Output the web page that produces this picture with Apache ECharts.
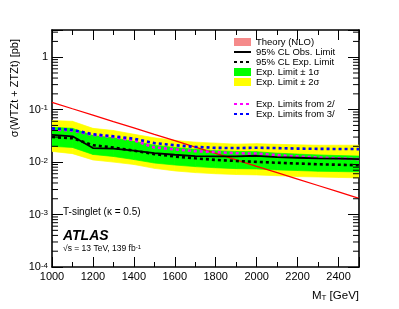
<!DOCTYPE html>
<html><head><meta charset="utf-8">
<script src="https://cdn.jsdelivr.net/npm/echarts@6/dist/echarts.min.js"></script>
<style>html,body{margin:0;padding:0;background:#fff}#c{width:399px;height:309px}</style>
</head><body><div id="c"></div>
<script>
// ---- data ----
const masses    = [1000,1100,1200,1300,1400,1500,1600,1700,1800,1900,2000,2100,2200,2300,2400,2500];
const theory    = [0.138,0.104,0.0787,0.0594,0.0449,0.0339,0.0256,0.0193,0.0146,0.0110,0.0083,0.00628,0.00474,0.00358,0.0027,0.00204];
const observed  = [0.033,0.031,0.0185,0.018,0.0165,0.0148,0.0138,0.0130,0.0128,0.0129,0.0132,0.0124,0.0121,0.0118,0.0116,0.0114];
const expected  = [0.030,0.0285,0.021,0.019,0.0165,0.0142,0.0128,0.0118,0.0110,0.0105,0.0101,0.0097,0.0094,0.0091,0.0089,0.0087];
const green_hi  = [0.046,0.044,0.032,0.029,0.025,0.021,0.019,0.0175,0.0165,0.016,0.0158,0.0148,0.0142,0.0137,0.0133,0.0130];
const green_lo  = [0.0200,0.0190,0.0140,0.0128,0.0112,0.0096,0.0088,0.0082,0.0078,0.0075,0.0074,0.0071,0.0069,0.0067,0.0066,0.0065];
const yellow_hi = [0.062,0.060,0.044,0.040,0.034,0.029,0.026,0.024,0.023,0.022,0.0225,0.0218,0.0213,0.021,0.021,0.021];
const yellow_lo = [0.0160,0.0145,0.0110,0.0100,0.0090,0.0076,0.0068,0.0063,0.0060,0.0058,0.0057,0.0055,0.0053,0.0052,0.0051,0.0050];
const exp2l     = [0.042,0.040,0.033,0.030,0.026,0.019,0.0175,0.0162,0.0155,0.0148,0.0145,0.0136,0.0128,0.0122,0.0118,0.0114];
const exp3l     = [0.044,0.041,0.034,0.031,0.028,0.023,0.021,0.0195,0.0187,0.0185,0.0188,0.0185,0.0181,0.0179,0.0178,0.0177];
const xMin = 1000, xMax = 2500, yMin = 1e-4, yMax = 3.3;
const names = ['Theory (NLO)','95% CL Obs. Limit','95% CL Exp. Limit','Exp. Limit \u00b1 1\u03c3','Exp. Limit \u00b1 2\u03c3','Exp. Limits from 2/','Exp. Limits from 3/'];

const FONT = 'Liberation Sans, Arial, Helvetica, sans-serif';
const chart = echarts.init(document.getElementById('c'), null, {renderer:'canvas', width:399, height:309});

const pairs = arr => masses.map((m,i)=>[m, arr[i]]);

function band(name, lo, hi, color, z) {
  const segs = masses.slice(0,-1).map((m,i)=>[m, lo[i], hi[i], masses[i+1], lo[i+1], hi[i+1]]);
  return {
    type:'custom', name, data:segs, z, silent:true, clip:true,
    encode:{x:[0,3], y:[1,2,4,5]},
    itemStyle:{color},
    renderItem(params, api){
      const a = api.coord([api.value(0), api.value(2)]);
      const b = api.coord([api.value(3), api.value(5)]);
      const c = api.coord([api.value(3), api.value(4)]);
      const d = api.coord([api.value(0), api.value(1)]);
      return {type:'polygon', shape:{points:[a,b,c,d]}, style:{fill:color, stroke:color, lineWidth:0.7}};
    }
  };
}

// minor log ticks (2..9 per decade) on left and right frame
const yMinor = [];
for (let e=-4; e<=0; e++) for (let k=2; k<=9; k++) { const v = k*Math.pow(10,e); if (v < yMax) yMinor.push(v); }

const lineS = (name, data, color, width, type, z) => ({
  type:'line', name, data:pairs(data), symbol:'none', z, silent:true,
  lineStyle:{color, width, type, cap:'butt'}, itemStyle:{color}
});

const ylab = v => {
  const l = Math.log10(v), e = Math.round(l);
  if (Math.abs(l-e) > 1e-6) return '';
  if (e === 0) return '{b|1}';
  return '{b|10}{s|' + e + '}';
};

const legendBase = {show:true, orient:'vertical', left:233, itemWidth:17, itemHeight:8, itemGap:0,
  padding:0, selectedMode:false,
  textStyle:{fontSize:9.5, fontFamily:FONT, color:'#000', lineHeight:10}};
const lineItem = name => ({name, itemStyle:{opacity:0, borderWidth:0}});

const option = {
  animation:false,
  backgroundColor:'#fff',
  grid:{left:52, right:40, top:30, bottom:42, outerBoundsMode:'none'},
  xAxis:[
    {type:'value', min:xMin, max:xMax, interval:200, position:'bottom',
     axisLine:{show:true, onZero:false, lineStyle:{color:'#000', width:1.6}},
     axisTick:{show:true, inside:true, length:10, lineStyle:{color:'#000', width:1}},
     minorTick:{show:true, splitNumber:2, length:5, lineStyle:{color:'#000', width:1}},
     splitLine:{show:false},
     axisLabel:{show:true, margin:4, color:'#000', fontSize:11, fontFamily:FONT,
       formatter: v => (v % 200 === 0 && v < xMax) ? String(v) : ''}},
    {type:'value', min:xMin, max:xMax, interval:200, position:'top',
     axisLine:{show:true, onZero:false, lineStyle:{color:'#000', width:1.6}},
     axisTick:{show:true, inside:true, length:10, lineStyle:{color:'#000', width:1}},
     minorTick:{show:true, splitNumber:2, length:5, lineStyle:{color:'#000', width:1}},
     splitLine:{show:false}, axisLabel:{show:false}}
  ],
  yAxis:[
    {type:'log', logBase:10, min:yMin, max:yMax, position:'left',
     axisLine:{show:true, onZero:false, lineStyle:{color:'#000', width:1.6}},
     axisTick:{show:true, inside:true, length:11, lineStyle:{color:'#000', width:1}},
     minorTick:{show:false}, splitLine:{show:false},
     axisLabel:{show:true, margin:4, color:'#000', fontFamily:FONT, formatter: ylab,
       rich:{b:{fontSize:11, fontFamily:FONT, color:'#000', verticalAlign:'bottom', lineHeight:11},
             s:{fontSize:8, fontFamily:FONT, color:'#000', verticalAlign:'top', lineHeight:8, padding:[0,0,6,0]}}}},
    {type:'log', logBase:10, min:yMin, max:yMax, position:'right',
     axisLine:{show:true, onZero:false, lineStyle:{color:'#000', width:1.6}},
     axisTick:{show:true, inside:true, length:11, lineStyle:{color:'#000', width:1}},
     minorTick:{show:false}, splitLine:{show:false}, axisLabel:{show:false}}
  ],
  legend:[
    Object.assign({}, legendBase, {top:37,
     data:[
       {name:names[0], icon:'rect', itemStyle:{color:'#f58a8a'}},
       lineItem(names[1]),
       lineItem(names[2]),
       {name:names[3], icon:'rect'},
       {name:names[4], icon:'rect'}
     ]}),
    Object.assign({}, legendBase, {top:99,
     data:[lineItem(names[5]), lineItem(names[6])]})
  ],
  series:[
    band(names[4], yellow_lo, yellow_hi, '#ffff00', 1),
    band(names[3], green_lo, green_hi, '#00ff00', 2),
    lineS(names[0], theory, '#ff0000', 1.3, 'solid', 3),
    lineS(names[5], exp2l, '#ff00ff', 2.6, [3,3], 4),
    lineS(names[6], exp3l, '#0000ff', 2.6, [3,3], 5),
    lineS(names[2], expected, '#000000', 2.6, [3,3], 6),
    lineS(names[1], observed, '#000000', 1.8, 'solid', 7),
    {type:'custom', name:'minorTicks', data:yMinor.map(v=>[v]), z:10, silent:true, clip:false,
     encode:{y:0},
     renderItem(params, api){
       const v = api.value(0);
       const L = api.coord([xMin, v]), R = api.coord([xMax, v]);
       return {type:'group', children:[
         {type:'line', shape:{x1:L[0], y1:L[1], x2:L[0]+6, y2:L[1]}, style:{stroke:'#000', lineWidth:1}},
         {type:'line', shape:{x1:R[0], y1:R[1], x2:R[0]-6, y2:R[1]}, style:{stroke:'#000', lineWidth:1}}
       ]};
     }}
  ],
  graphic:[
    {type:'text', x:15, y:39, rotation:Math.PI/2,
     style:{text:'\u03c3(WTZt + ZTZt) [pb]', font:'11px '+FONT, fill:'#000', textAlign:'right', textVerticalAlign:'middle'}},
    {type:'text', right:40, top:288,
     style:{text:'{m|M}{t|T}{m| [GeV]}', fill:'#000',
       rich:{m:{fontSize:11.5, fontFamily:FONT, verticalAlign:'top', lineHeight:12},
             t:{fontSize:8, fontFamily:FONT, verticalAlign:'bottom', lineHeight:8, padding:[6,0,0,0]}}}},
    {type:'text', left:63, top:207,
     style:{text:'T-singlet (\u03ba = 0.5)', font:'10px '+FONT, fill:'#000'}},
    {type:'text', left:63, top:229,
     style:{text:'ATLAS', font:'italic bold 14px '+FONT, fill:'#000'}},
    {type:'text', left:63, top:244,
     style:{text:'{a|\u221as = 13 TeV, 139 fb}{s|-1}', fill:'#000',
       rich:{a:{fontSize:8.5, fontFamily:FONT, verticalAlign:'bottom', lineHeight:9},
             s:{fontSize:6, fontFamily:FONT, verticalAlign:'top', lineHeight:6, padding:[0,0,4,0]}}}}
  ]
};
chart.setOption(option);
</script></body></html>
